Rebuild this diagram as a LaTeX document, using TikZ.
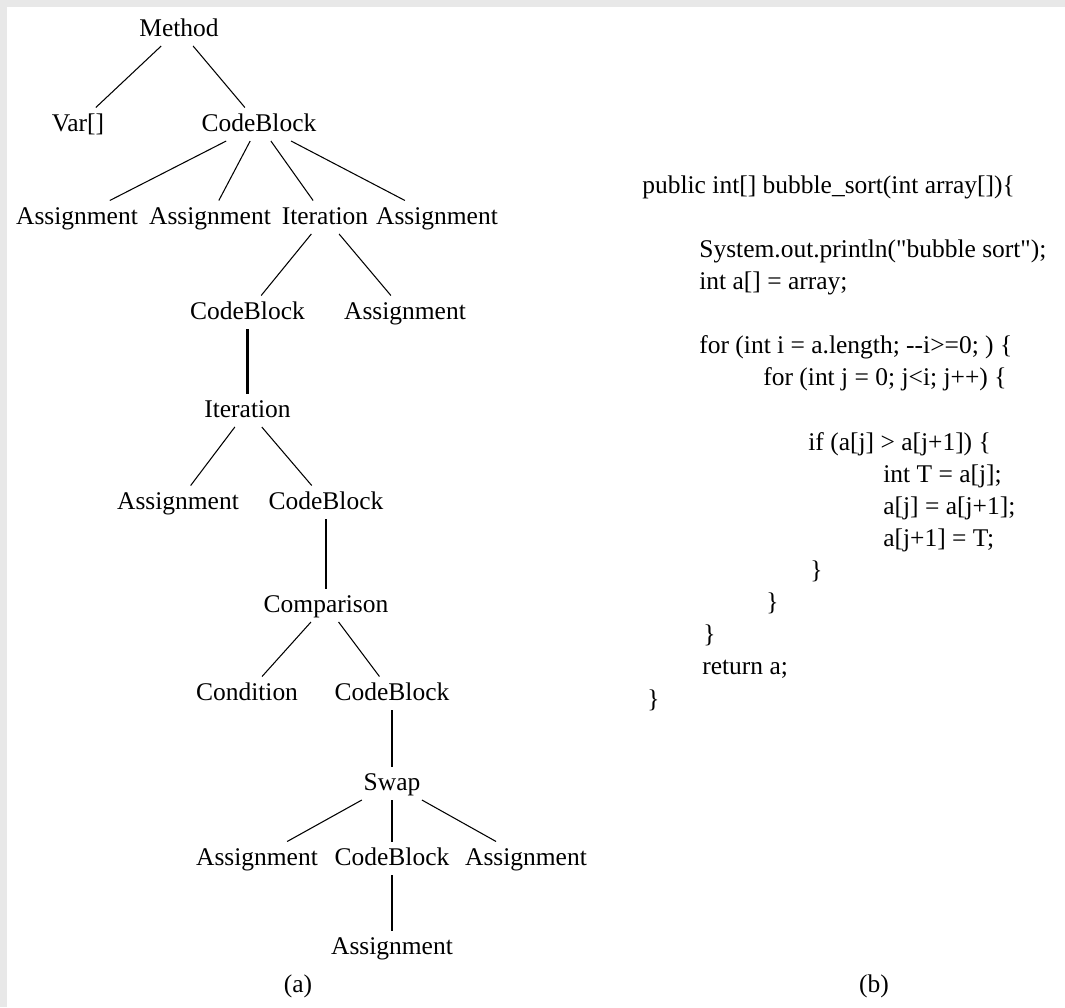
\documentclass[tikz,border=0pt]{standalone}
\usepackage{fontspec}
\setmainfont{Liberation Serif}
\begin{document}
\begin{tikzpicture}[
  treenode/.style={font=\fontsize{14.5}{17}\selectfont, anchor=base, inner sep=0pt,
                   outer sep=0.12cm, text height=0.35cm, text depth=0.08cm},
  codeline/.style={font=\fontsize{14.5}{17}\selectfont, anchor=base west, inner sep=0pt},
  caption/.style={font=\fontsize{14.5}{17}\selectfont, anchor=base, inner sep=0pt},
  link/.style={line width=0.6pt},
  thicklink/.style={line width=1.5pt}
]
  \useasboundingbox (0,0) rectangle (21.3,-20.14);
  \fill[black!9] (0,0) rectangle (21.3,-0.14);
  \fill[black!9] (0,0) rectangle (0.14,-20.14);

  % (a) syntax tree
  \node[treenode] (method) at (3.58, -0.72)  {Method};
  \node[treenode] (var)    at (1.56, -2.62)  {Var[]};
  \node[treenode] (cbA)    at (5.18, -2.62)  {CodeBlock};
  \node[treenode] (asgA)   at (1.54, -4.48)  {Assignment};
  \node[treenode] (asgB)   at (4.20, -4.48)  {Assignment};
  \node[treenode] (iterA)  at (6.50, -4.48)  {Iteration};
  \node[treenode] (asgC)   at (8.74, -4.48)  {Assignment};
  \node[treenode] (cbB)    at (4.95, -6.38)  {CodeBlock};
  \node[treenode] (asgD)   at (8.10, -6.38)  {Assignment};
  \node[treenode] (iterB)  at (4.95, -8.34)  {Iteration};
  \node[treenode] (asgE)   at (3.56, -10.18) {Assignment};
  \node[treenode] (cbC)    at (6.52, -10.18) {CodeBlock};
  \node[treenode] (comp)   at (6.52, -12.24) {Comparison};
  \node[treenode] (cond)   at (4.94, -14.00) {Condition};
  \node[treenode] (cbD)    at (7.84, -14.00) {CodeBlock};
  \node[treenode] (swap)   at (7.84, -15.80) {Swap};
  \node[treenode] (asgF)   at (5.14, -17.30) {Assignment};
  \node[treenode] (cbE)    at (7.84, -17.30) {CodeBlock};
  \node[treenode] (asgG)   at (10.52, -17.30) {Assignment};
  \node[treenode] (asgH)   at (7.84, -19.08) {Assignment};

  \draw[link] (method) -- (var);
  \draw[link] (method) -- (cbA);
  \draw[link] (cbA) -- (asgA);
  \draw[link] (cbA) -- (asgB);
  \draw[link] (cbA) -- (iterA);
  \draw[link] (cbA) -- (asgC);
  \draw[link] (iterA) -- (cbB);
  \draw[link] (iterA) -- (asgD);
  \draw[thicklink] (cbB) -- (iterB);
  \draw[link] (iterB) -- (asgE);
  \draw[link] (iterB) -- (cbC);
  \draw[thicklink] (cbC) -- (comp);
  \draw[link] (comp) -- (cond);
  \draw[link] (comp) -- (cbD);
  \draw[thicklink] (cbD) -- (swap);
  \draw[link] (swap) -- (asgF);
  \draw[link] (swap) -- (cbE);
  \draw[link] (swap) -- (asgG);
  \draw[link] (cbE) -- (asgH);

  % (b) source code
  \node[codeline] (sig)       at (12.84, -3.86)  {public int[] bubble\_sort(int array[])\{};
  \node[codeline] (println)   at (13.98, -5.14)  {System.out.println(\textquotedbl bubble sort\textquotedbl);};
  \node[codeline] (alias)     at (13.98, -5.78)  {int a[] = array;};
  \node[codeline] (outerfor)  at (13.98, -7.06)  {for (int i = a.length; -{}-i>=0; ) \{};
  \node[codeline] (innerfor)  at (15.26, -7.70)  {for (int j = 0; j<i; j++) \{};
  \node[codeline] (iftest)    at (16.16, -9.00)  {if (a[j] > a[j+1]) \{};
  \node[codeline] (tmp)       at (17.66, -9.64)  {int T = a[j];};
  \node[codeline] (shift)     at (17.66, -10.28) {a[j] = a[j+1];};
  \node[codeline] (put)       at (17.66, -10.92) {a[j+1] = T;};
  \node[codeline] (endif)     at (16.20, -11.56) {\}};
  \node[codeline] (endinner)  at (15.32, -12.20) {\}};
  \node[codeline] (endouter)  at (14.06, -12.84) {\}};
  \node[codeline] (ret)       at (14.04, -13.48) {return a;};
  \node[codeline] (endmethod) at (12.94, -14.14) {\}};

  \node[caption] (capa) at (5.96, -19.84)  {(a)};
  \node[caption] (capb) at (17.48, -19.84) {(b)};
\end{tikzpicture}
\end{document}
